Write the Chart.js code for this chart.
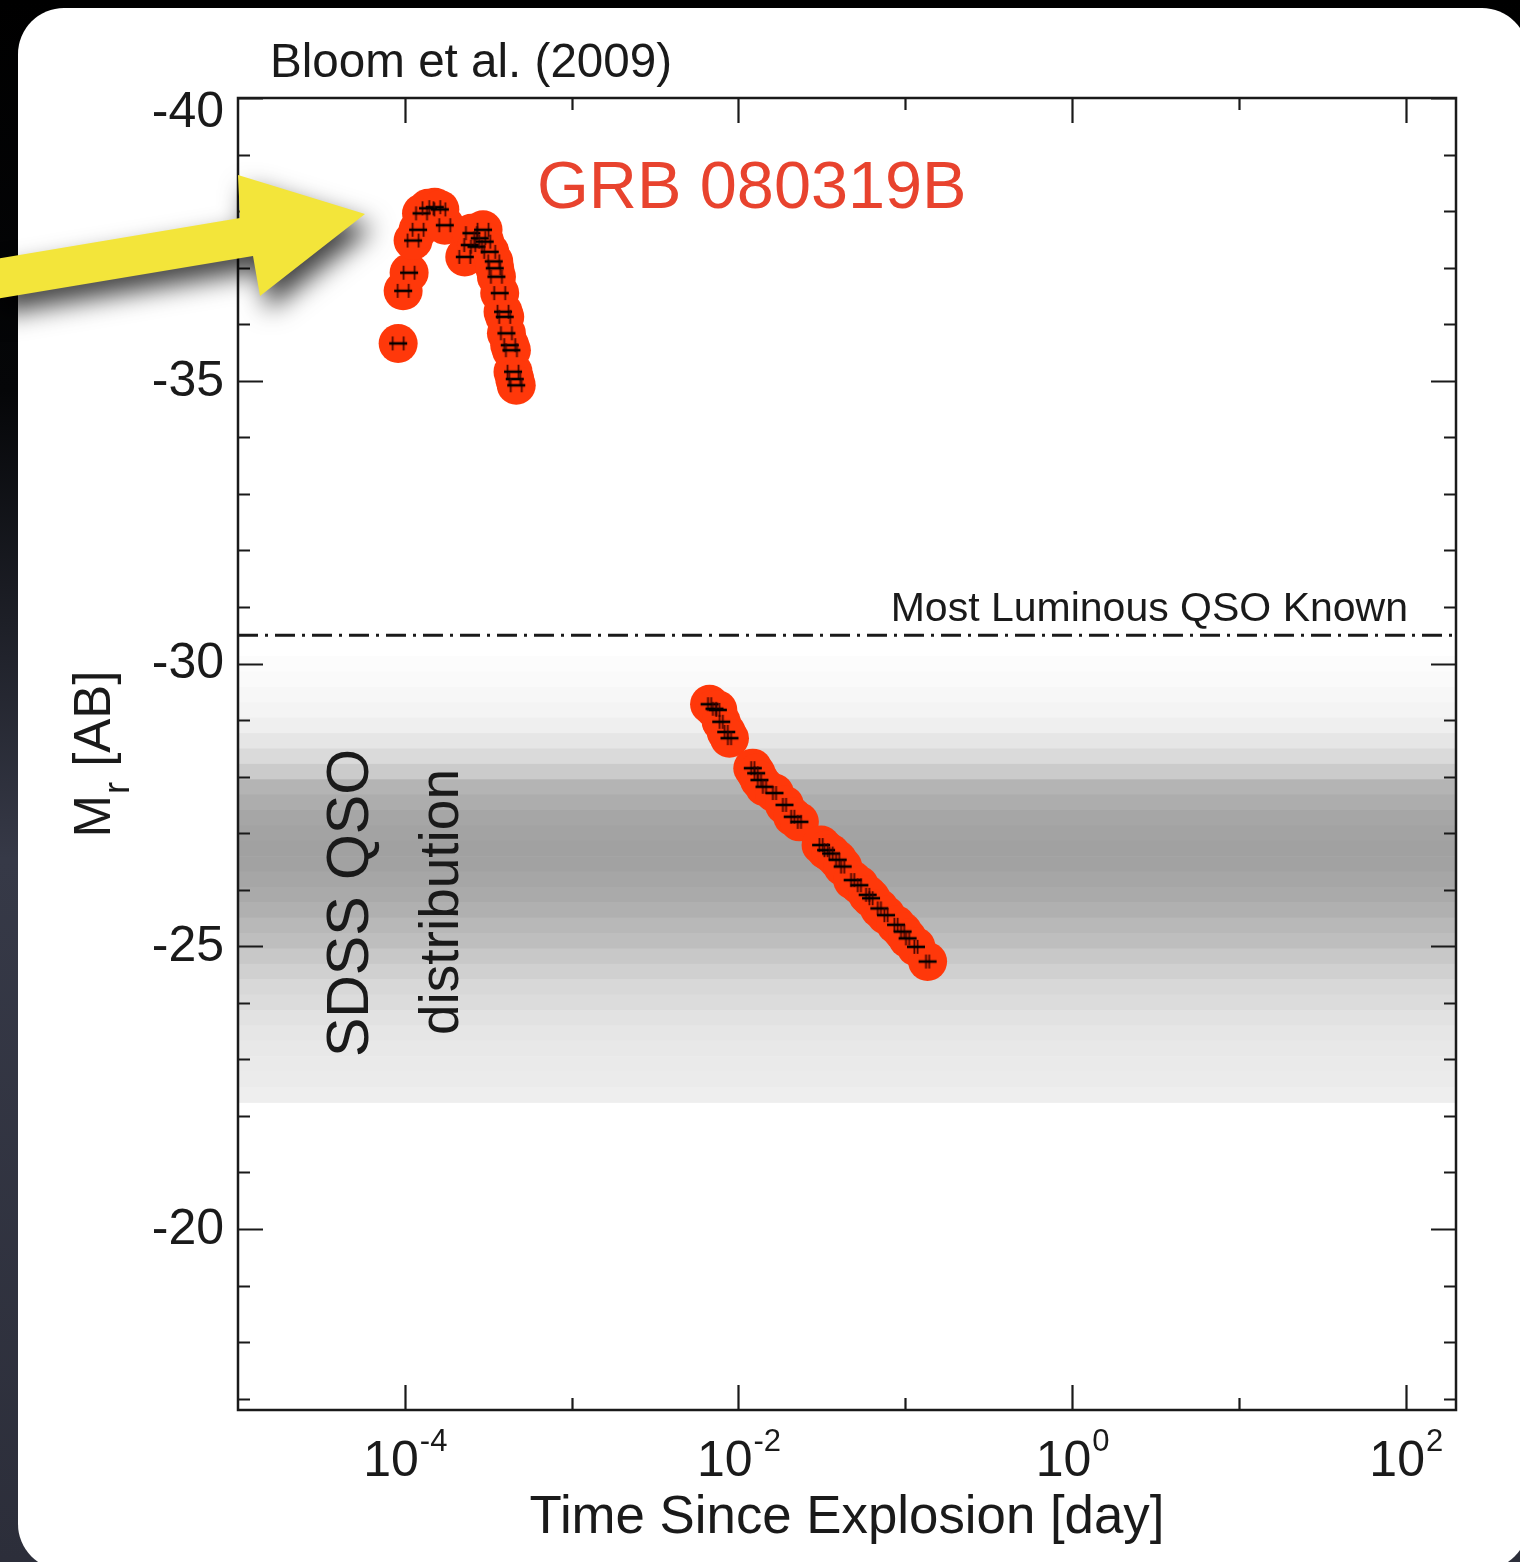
<!DOCTYPE html>
<html>
<head>
<meta charset="utf-8">
<script src="https://cdn.jsdelivr.net/npm/chart.js@4.4.1/dist/chart.umd.min.js"></script>
<style>
  html, body { margin: 0; padding: 0; background: #000; }
</style>
</head>
<body>
<canvas id="chart" width="1520" height="1562"></canvas>
<script>
// GRB 080319B optical light curve, r-band absolute mag vs days since explosion
const grbDays = [
  9.12e-5, 9.77e-5, 1.061e-4, 1.121e-4, 1.201e-4, 1.259e-4, 1.378e-4, 1.512e-4, 1.621e-4, 1.736e-4,
  2.287e-4, 2.449e-4, 2.507e-4, 2.688e-4, 2.812e-4, 2.943e-4, 3.013e-4, 3.228e-4, 3.411e-4, 3.459e-4,
  3.541e-4, 3.705e-4, 3.879e-4, 3.971e-4, 4.065e-4, 4.254e-4, 4.354e-4, 4.451e-4, 4.558e-4, 4.654e-4,
  6.71e-3, 7.18e-3, 7.52e-3, 7.88e-3, 8.44e-3, 8.83e-3, 1.218e-2, 1.276e-2, 1.335e-2, 1.431e-2,
  1.643e-2, 1.886e-2, 2.114e-2, 2.318e-2, 3.127e-2, 3.350e-2, 3.590e-2, 3.932e-2, 4.213e-2, 4.834e-2,
  5.304e-2, 5.946e-2, 6.231e-2, 6.988e-2, 7.664e-2, 8.796e-2, 9.634e-2, 0.1032, 0.1159, 0.1360
];
const grbMag = [
  -35.66, -36.59, -36.91, -37.48, -37.67, -37.96, -38.05, -38.07, -38.03, -37.75,
  -37.19, -37.40, -37.61, -37.37, -37.52, -37.67, -37.46, -37.28, -37.11, -36.99,
  -36.84, -36.55, -36.22, -36.13, -35.84, -35.63, -35.54, -35.16, -35.03, -34.92,
  -29.28, -29.20, -29.18, -28.97, -28.79, -28.68, -28.15, -28.06, -27.94, -27.82,
  -27.71, -27.50, -27.29, -27.20, -26.79, -26.70, -26.64, -26.53, -26.41, -26.17,
  -26.08, -25.91, -25.85, -25.67, -25.55, -25.38, -25.26, -25.14, -24.99, -24.73
];

// SDSS QSO magnitude distribution (relative density per bin, brightest bin first)
const qsoBinTop = -30.13;
const qsoBinWidth = 0.272;
const qsoDensity = [
  0.03, 0.05, 0.085, 0.12, 0.17, 0.27, 0.39, 0.55, 0.80, 0.87,
  0.95, 0.98, 1.00, 0.99, 0.95, 0.90, 0.84, 0.76, 0.69, 0.59,
  0.50, 0.41, 0.37, 0.31, 0.27, 0.24, 0.22, 0.21, 0.18
];
const qsoMostLuminous = -30.5;

// axes
const xRange = [1e-5, 200];
const yRange = [-40, -16.8];
const xDecadeTicks = [1e-4, 1e-3, 1e-2, 1e-1, 1e0, 1e1, 1e2];
const xLabelExp = [-4, -2, 0, 2];
const yMajorTicks = [-40, -35, -30, -25, -20];
const yTickLabels = ['-40', '-35', '-30', '-25', '-20'];

const FONT = '"Liberation Sans", Arial, Helvetica, sans-serif';
const INK = '#1a1a1a';

const grbPoints = grbDays.map((d, i) => ({ x: d, y: grbMag[i] }));

// little error-bar style markers drawn on top of the red discs
function makeMark(gap) {
  const cv = document.createElement('canvas');
  cv.width = 20; cv.height = 16;
  const c = cv.getContext('2d');
  c.strokeStyle = 'rgba(50,0,0,0.85)';
  c.lineWidth = 1.8;
  c.beginPath();
  c.moveTo(10 - gap, 1); c.lineTo(10 - gap, 15);
  c.moveTo(10 + gap, 1); c.lineTo(10 + gap, 15);
  c.stroke();
  c.strokeStyle = '#000';
  c.lineWidth = 2.6;
  c.beginPath(); c.moveTo(1, 8); c.lineTo(19, 8); c.stroke();
  return cv;
}
const hMark = makeMark(5.5);
const plusMark = makeMark(1.6);

const backdrop = {
  id: 'backdrop',
  beforeDraw(chart) {
    const c = chart.ctx;
    const g = c.createLinearGradient(0, 0, 0, chart.height);
    g.addColorStop(0, '#000000');
    g.addColorStop(0.25, '#050608');
    g.addColorStop(0.55, '#363947');
    g.addColorStop(1, '#2c2e3a');
    c.save();
    c.fillStyle = g;
    c.fillRect(0, 0, chart.width, chart.height);
    c.fillStyle = '#ffffff';
    c.beginPath();
    c.roundRect(18, 8, 1510, 1562, 46);
    c.fill();
    c.restore();
  }
};

const qsoBands = {
  id: 'qsoBands',
  beforeDatasetsDraw(chart) {
    const { ctx: c, chartArea: a, scales: { y } } = chart;
    c.save();
    qsoDensity.forEach((d, i) => {
      const y0 = y.getPixelForValue(qsoBinTop + i * qsoBinWidth);
      const y1 = y.getPixelForValue(qsoBinTop + (i + 1) * qsoBinWidth);
      const g = Math.round(255 - 94 * d);
      c.fillStyle = `rgb(${g},${g},${g})`;
      c.fillRect(a.left, y0, a.right - a.left, y1 - y0 + 0.6);
    });
    c.restore();
  }
};

function rotatedText(c, text, x, y, size, align) {
  c.save();
  c.translate(x, y);
  c.rotate(-Math.PI / 2);
  c.font = `${size}px ${FONT}`;
  c.textAlign = align || 'center';
  c.textBaseline = 'alphabetic';
  c.fillText(text, 0, 0);
  c.restore();
}

const frame = {
  id: 'frame',
  afterDraw(chart) {
    const { ctx: c, chartArea: a, scales: { x, y } } = chart;
    c.save();
    c.strokeStyle = INK;
    c.fillStyle = INK;

    // inward ticks on all four sides
    c.lineWidth = 2.2;
    c.beginPath();
    for (let v = Math.ceil(y.min); v <= y.max; v++) {
      const py = Math.round(y.getPixelForValue(v)) + 0.5;
      const len = yMajorTicks.includes(v) ? 25 : 12;
      c.moveTo(a.left, py); c.lineTo(a.left + len, py);
      c.moveTo(a.right, py); c.lineTo(a.right - len, py);
    }
    xDecadeTicks.forEach(v => {
      const px = Math.round(x.getPixelForValue(v)) + 0.5;
      const len = xLabelExp.includes(Math.round(Math.log10(v))) ? 25 : 12;
      c.moveTo(px, a.bottom); c.lineTo(px, a.bottom - len);
      c.moveTo(px, a.top); c.lineTo(px, a.top + len);
    });
    c.stroke();
    c.lineWidth = 2.5;
    c.strokeRect(a.left, a.top, a.right - a.left, a.bottom - a.top);

    // y tick labels
    c.font = `50px ${FONT}`;
    c.textAlign = 'right';
    c.textBaseline = 'middle';
    yMajorTicks.forEach((v, i) => {
      const py = Math.max(y.getPixelForValue(v), a.top + 14);
      c.fillText(yTickLabels[i], a.left - 14, py + 1);
    });

    // x tick labels: 10^n
    c.textAlign = 'left';
    c.textBaseline = 'alphabetic';
    xLabelExp.forEach(e => {
      const px = x.getPixelForValue(Math.pow(10, e));
      c.font = `50px ${FONT}`;
      const wb = c.measureText('10').width;
      c.font = `31px ${FONT}`;
      const es = String(e);
      const we = c.measureText(es).width;
      const x0 = px - (wb + we) / 2;
      c.font = `50px ${FONT}`;
      c.fillText('10', x0, 1476);
      c.font = `31px ${FONT}`;
      c.fillText(es, x0 + wb + 1, 1451);
    });

    // axis titles
    c.font = `52.8px ${FONT}`;
    c.textAlign = 'center';
    c.fillText('Time Since Explosion [day]', 847, 1533);

    c.save();
    c.translate(110, 755);
    c.rotate(-Math.PI / 2);
    c.font = `51px ${FONT}`;
    const wM = c.measureText('M').width;
    const wAB = c.measureText(' [AB]').width;
    c.font = `36px ${FONT}`;
    const wr = c.measureText('r').width;
    let lx = -(wM + wr + wAB) / 2;
    c.textAlign = 'left';
    c.font = `51px ${FONT}`;
    c.fillText('M', lx, 0);
    c.font = `36px ${FONT}`;
    c.fillText('r', lx + wM + 1, 19);
    c.font = `51px ${FONT}`;
    c.fillText(' [AB]', lx + wM + wr + 2, 0);
    c.restore();

    // annotations
    c.textAlign = 'left';
    c.font = `47.6px ${FONT}`;
    c.fillText('Bloom et al. (2009)', 270, 77);

    c.fillStyle = '#e8432e';
    c.font = `66.6px ${FONT}`;
    c.fillText('GRB 080319B', 537, 208);

    c.fillStyle = INK;
    c.textAlign = 'right';
    c.font = `41px ${FONT}`;
    c.fillText('Most Luminous QSO Known', 1408, 621);

    rotatedText(c, 'SDSS QSO', 368, 903, 59);
    rotatedText(c, 'distribution', 458, 902, 55);

    // yellow pointer arrow
    c.save();
    c.shadowColor = 'rgba(0,0,0,0.75)';
    c.shadowBlur = 26;
    c.shadowOffsetX = 8;
    c.shadowOffsetY = 14;
    c.fillStyle = '#f3e53a';
    c.beginPath();
    c.moveTo(-10, 260);
    c.lineTo(240, 218);
    c.lineTo(238, 175);
    c.lineTo(365, 214);
    c.lineTo(260, 296);
    c.lineTo(253, 256);
    c.lineTo(-10, 300);
    c.closePath();
    c.fill();
    c.restore();

    c.restore();
  }
};

new Chart(document.getElementById('chart').getContext('2d'), {
  type: 'scatter',
  data: {
    datasets: [
      {
        label: 'Most Luminous QSO Known',
        type: 'line',
        data: [{ x: xRange[0], y: qsoMostLuminous }, { x: xRange[1], y: qsoMostLuminous }],
        borderColor: INK,
        borderWidth: 3,
        borderDash: [20, 7, 3, 7],
        pointRadius: 0,
        order: 3
      },
      {
        label: 'GRB 080319B',
        data: grbPoints,
        pointRadius: 19.5,
        backgroundColor: '#ff380a',
        borderWidth: 0,
        order: 2
      },
      {
        label: 'GRB 080319B marks',
        data: grbPoints,
        pointStyle: ctx => (ctx.raw && ctx.raw.x < 1e-3 ? hMark : plusMark),
        order: 1
      }
    ]
  },
  options: {
    responsive: false,
    animation: false,
    events: [],
    layout: { padding: { left: 238, top: 98, right: 64, bottom: 152 } },
    plugins: {
      legend: { display: false },
      tooltip: { enabled: false }
    },
    scales: {
      x: { type: 'logarithmic', min: xRange[0], max: xRange[1], display: false },
      y: { type: 'linear', min: yRange[0], max: yRange[1], reverse: true, display: false }
    }
  },
  plugins: [backdrop, qsoBands, frame]
});
</script>
</body>
</html>
